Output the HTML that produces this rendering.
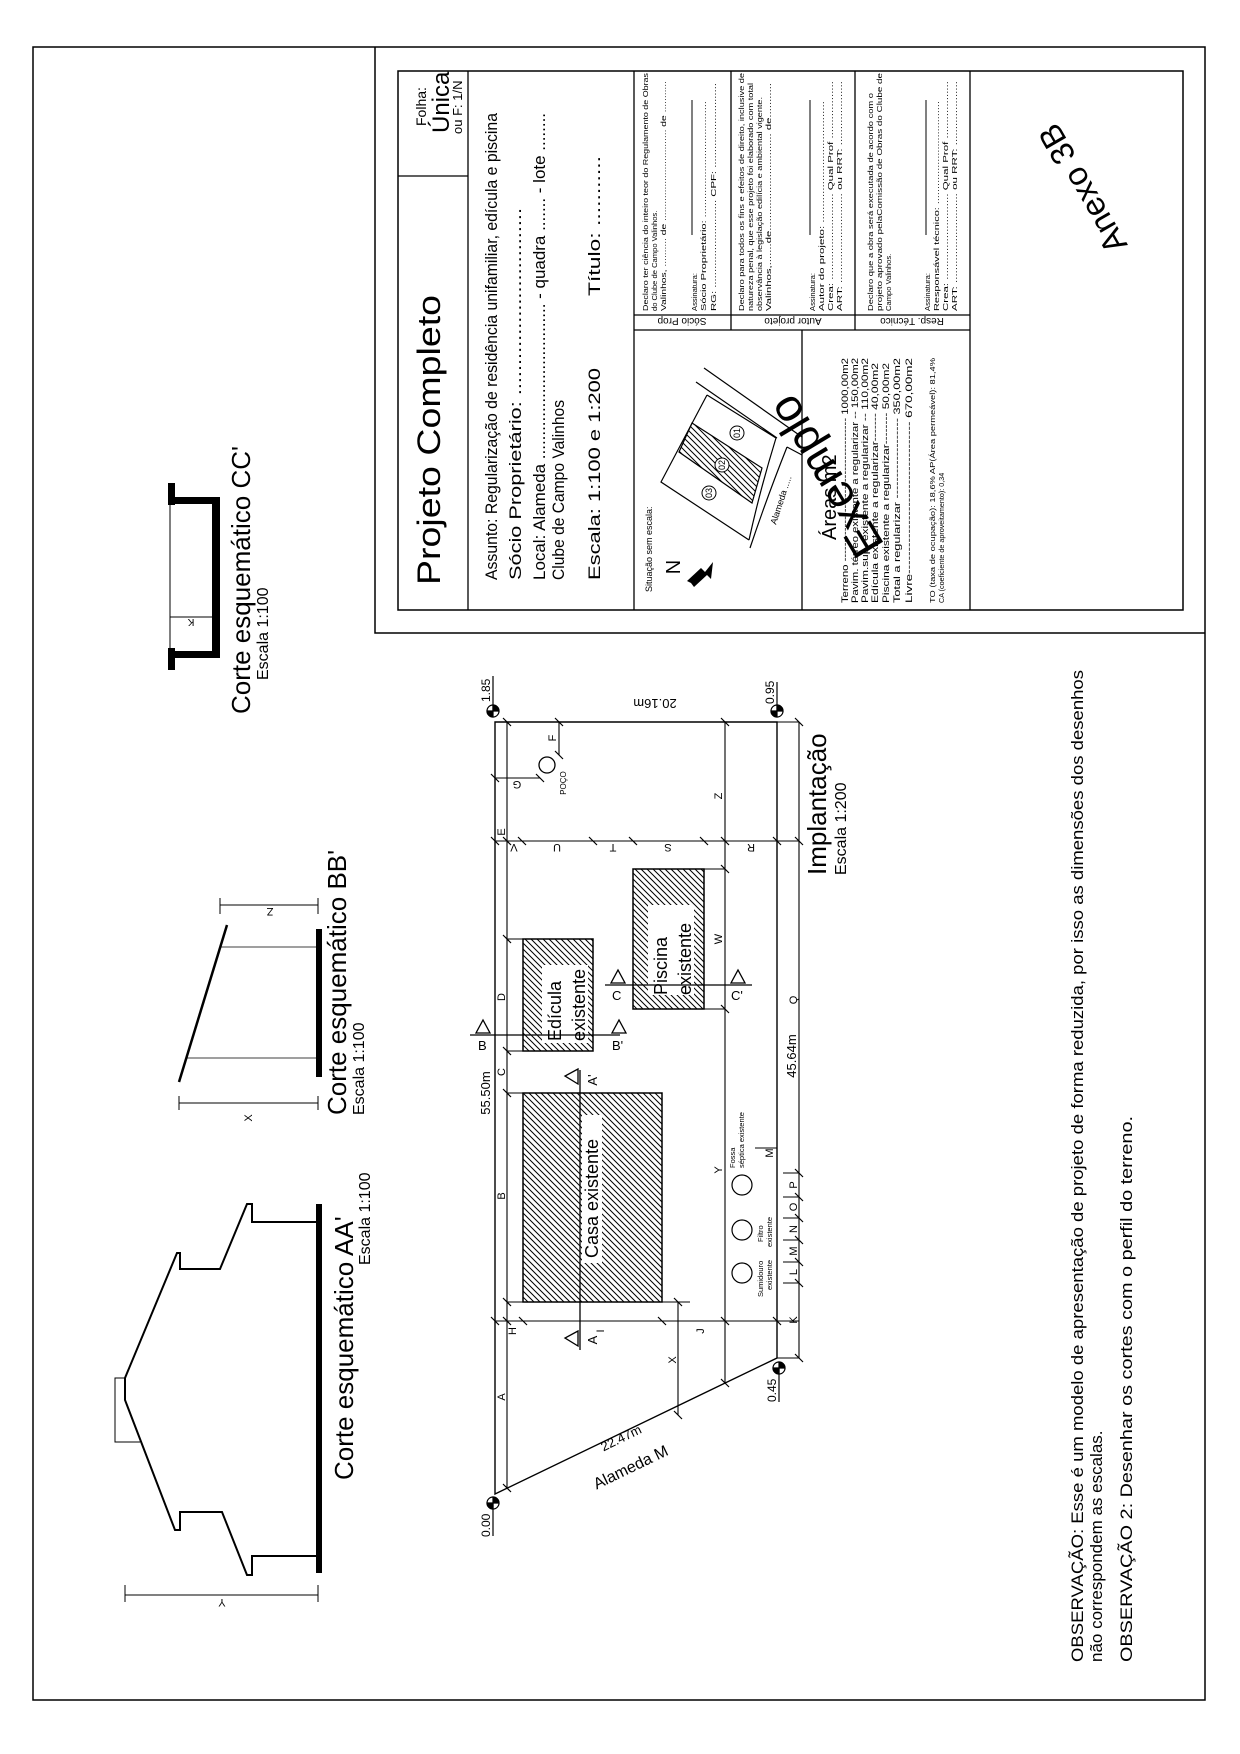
<!DOCTYPE html>
<html><head><meta charset="utf-8"><style>
html,body{margin:0;padding:0;background:#fff}
svg{display:block}
text{font-family:"Liberation Sans",Arial,sans-serif;fill:#000}
</style></head><body>
<svg width="1240" height="1754" viewBox="0 0 1240 1754" xmlns="http://www.w3.org/2000/svg">
<defs>
<pattern id="h" patternUnits="userSpaceOnUse" width="6" height="6">
<path d="M-1,-1 L7,7 M-4,2 L2,8 M4,-2 L8,2" stroke="#000" stroke-width="1"/>
</pattern>
</defs>
<rect width="1240" height="1754" fill="#fff"/>
<!-- outer border -->
<rect x="33" y="47" width="1172" height="1653" fill="none" stroke="#000" stroke-width="1.5"/>
<!-- title block -->
<path d="M375,47 V633 H1205" fill="none" stroke="#000" stroke-width="1.5"/>
<rect x="398" y="71" width="785" height="539" fill="none" stroke="#000" stroke-width="1.5"/>
<g stroke="#000" stroke-width="1.3" fill="none">
<path d="M468,71 V610 M398,176 H468 M634,71 V610 M970,71 V610 M634,330 H970 M634,315 H970 M731,71 V330 M855,71 V330 M802,330 V610"/>
</g>
<g>
<text transform="translate(440,585) rotate(-90)" font-size="32" textLength="290" lengthAdjust="spacingAndGlyphs">Projeto Completo</text>
<text transform="translate(426,126) rotate(-90)" font-size="14">Folha:</text>
<text transform="translate(449,133) rotate(-90)" font-size="24">Única</text>
<text transform="translate(462,134) rotate(-90)" font-size="13">ou F: 1/N</text>
<text transform="translate(497,580) rotate(-90)" font-size="17" textLength="467" lengthAdjust="spacingAndGlyphs">Assunto: Regularização de residência unifamiliar, edícula e piscina</text>
<text transform="translate(521,580) rotate(-90)" font-size="17" textLength="372" lengthAdjust="spacingAndGlyphs">Sócio Proprietário: ...............................</text>
<text transform="translate(545,580) rotate(-90)" font-size="17" textLength="467" lengthAdjust="spacingAndGlyphs">Local: Alameda ................................. - quadra ....... - lote ........</text>
<text transform="translate(564,580) rotate(-90)" font-size="17" textLength="180" lengthAdjust="spacingAndGlyphs">Clube de Campo Valinhos</text>
<text transform="translate(600,580) rotate(-90)" font-size="17" textLength="212" lengthAdjust="spacingAndGlyphs">Escala: 1:100 e 1:200</text>
<text transform="translate(600,296) rotate(-90)" font-size="17" textLength="140" lengthAdjust="spacingAndGlyphs">Título: ...........</text>
</g>
<!-- declarations -->
<g font-size="7.6">
<text transform="translate(648,311) rotate(-90)" textLength="238" lengthAdjust="spacingAndGlyphs">Declaro ter ciência do inteiro teor do Regulamento de Obras</text>
<text transform="translate(657,311) rotate(-90)">do Clube de Campo Valinhos.</text>
<text transform="translate(666,311) rotate(-90)" textLength="230" lengthAdjust="spacingAndGlyphs">Valinhos, .......... de ................................ de ...........</text>
<text transform="translate(697,311) rotate(-90)">Assinatura:</text>
<text transform="translate(706,311) rotate(-90)" textLength="210" lengthAdjust="spacingAndGlyphs">Sócio Proprietário: ......................................</text>
<text transform="translate(716,311) rotate(-90)" textLength="228" lengthAdjust="spacingAndGlyphs">RG: ............................ CPF: ...........................</text>
<text transform="translate(744,311) rotate(-90)" textLength="238" lengthAdjust="spacingAndGlyphs">Declaro para todos os fins e efeitos de direito, inclusive de</text>
<text transform="translate(753,311) rotate(-90)" textLength="228" lengthAdjust="spacingAndGlyphs">natureza penal, que esse projeto foi elaborado com total</text>
<text transform="translate(762,311) rotate(-90)" textLength="214" lengthAdjust="spacingAndGlyphs">observância à legislação edilícia e ambiental vigente.</text>
<text transform="translate(771,311) rotate(-90)" textLength="228" lengthAdjust="spacingAndGlyphs">Valinhos,.......de............................... de...........</text>
<text transform="translate(815,311) rotate(-90)">Assinatura:</text>
<text transform="translate(824,311) rotate(-90)" textLength="210" lengthAdjust="spacingAndGlyphs">Autor do projeto: ......................................</text>
<text transform="translate(833,311) rotate(-90)" textLength="230" lengthAdjust="spacingAndGlyphs">Crea: ........................... Qual Prof ..................</text>
<text transform="translate(842,311) rotate(-90)" textLength="230" lengthAdjust="spacingAndGlyphs">ART: ............................ ou RRT: ....................</text>
<text transform="translate(873,311) rotate(-90)" textLength="218" lengthAdjust="spacingAndGlyphs">Declaro que a obra será executada de acordo com o</text>
<text transform="translate(882,311) rotate(-90)" textLength="238" lengthAdjust="spacingAndGlyphs">projeto aprovado pelaComissão de Obras do Clube de</text>
<text transform="translate(891,311) rotate(-90)">Campo Valinhos.</text>
<text transform="translate(930,311) rotate(-90)">Assinatura:</text>
<text transform="translate(939,311) rotate(-90)" textLength="210" lengthAdjust="spacingAndGlyphs">Responsável técnico: ..................................</text>
<text transform="translate(948,311) rotate(-90)" textLength="230" lengthAdjust="spacingAndGlyphs">Crea: ........................... Qual Prof ..................</text>
<text transform="translate(957,311) rotate(-90)" textLength="230" lengthAdjust="spacingAndGlyphs">ART: ............................ ou RRT: ....................</text>
</g>
<path d="M692,100 V235 M810,100 V235 M926,100 V235" stroke="#000" stroke-width="1"/>
<g font-size="10">
<text transform="translate(682,318) rotate(180)" text-anchor="middle">Sócio Prop</text>
<text transform="translate(793,318) rotate(180)" text-anchor="middle">Autor projeto</text>
<text transform="translate(912,318) rotate(180)" text-anchor="middle">Resp. Técnico</text>
</g>
<!-- situation -->
<text transform="translate(652,592) rotate(-90)" font-size="9">Situação sem escala:</text>
<text transform="translate(680,567) rotate(-90)" font-size="20" text-anchor="middle">N</text>
<polygon points="713,562 705,572 701,568 687,581 691,583 694,587 707,575 711,579" fill="#000"/>
<g stroke="#000" stroke-width="1.2" fill="none">
<path d="M704,368 L802,437 M696,382 L777,438 M707,395 L661,482 L749,540 M707,395 L776,438 M776,438 Q760,490 749,540 M787,447 Q766,500 750,548 M787,447 L802,455"/>
</g>
<polygon points="692,423 762,468 752,503 679,452" fill="url(#h)" stroke="#000" stroke-width="1.2"/>
<g fill="#fff" stroke="#000" stroke-width="1"><circle cx="737" cy="433" r="7"/><circle cx="722" cy="465" r="7"/><circle cx="709" cy="493" r="7"/></g>
<g font-size="9">
<text transform="translate(740,433) rotate(-90)" text-anchor="middle">01</text>
<text transform="translate(725,465) rotate(-90)" text-anchor="middle">02</text>
<text transform="translate(712,493) rotate(-90)" text-anchor="middle">03</text>
<text transform="translate(776,525) rotate(-72)" font-size="9">Alameda .....</text>
</g>
<!-- areas -->
<text transform="translate(836,540) rotate(-90)" font-size="20">Áreas m2</text>
<g font-size="9.3">
<text transform="translate(848,603) rotate(-90)" textLength="245" lengthAdjust="spacingAndGlyphs">Terreno -------------------------------------- 1000,00m2</text>
<text transform="translate(858,603) rotate(-90)" textLength="245" lengthAdjust="spacingAndGlyphs">Pavim. térreo existente a regularizar -- 150,00m2</text>
<text transform="translate(868,603) rotate(-90)" textLength="245" lengthAdjust="spacingAndGlyphs">Pavim.sup. existente a regularizar -- 110,00m2</text>
<text transform="translate(878,603) rotate(-90)" textLength="240" lengthAdjust="spacingAndGlyphs">Edícula existente  a regularizar------- 40,00m2</text>
<text transform="translate(889,603) rotate(-90)" textLength="240" lengthAdjust="spacingAndGlyphs">Piscina existente a regularizar-------- 50,00m2</text>
<text transform="translate(900,603) rotate(-90)" textLength="245" lengthAdjust="spacingAndGlyphs">Total a regularizar ------------------- 350,00m2</text>
<text transform="translate(912,603) rotate(-90)" textLength="245" lengthAdjust="spacingAndGlyphs">Livre---------------------------------- 670,00m2</text>
<text transform="translate(935,603) rotate(-90)" font-size="7.2" textLength="245" lengthAdjust="spacingAndGlyphs">TO (taxa de ocupação): 18,6%     AP(Área permeável): 81,4%</text>
<text transform="translate(944,603) rotate(-90)" font-size="7.2">CA (coeficiente de aproveitamento): 0,34</text>
</g>
<text transform="translate(885,545) rotate(-121)" font-size="46">Exemplo</text>
<text transform="translate(1128,245) rotate(-120)" font-size="33">Anexo 3B</text>

<!-- SITE PLAN -->
<g stroke="#000" stroke-width="1.4" fill="none">
<path d="M495,722 H777 V1358 L495,1494 Z"/>
</g>
<g stroke="#000" stroke-width="1.1" fill="none">
<path d="M507,722 V1488"/>
<path d="M725,722 V1383"/>
<path d="M799,722 V1358"/>
<path d="M495,841 H799"/>
<path d="M495,1321 H799"/>
<path d="M507,939 H523 M507,1051 H523 M507,1093 H523 M507,1302 H523 M662,1302 H690 M678,1302 V1415"/>
<path d="M704,869 H725 M704,1009 H725"/>
<path d="M559,722 V755 M495,778 H540"/>
<path d="M777,722 H799 M777,1358 H799 M783,1173 H799 M783,1197 H799 M783,1218 H799 M783,1240 H799 M783,1262 H799 M783,1283 H799 M755,1148 H777"/>
</g>
<!-- ticks -->
<g stroke="#000" stroke-width="1.2">
<path d="M503,718 l8,8 M503,837 l8,8 M503,935 l8,8 M503,1047 l8,8 M503,1089 l8,8 M503,1298 l8,8 M503,1484 l8,8
M518,837 l8,8 M589,837 l8,8 M629,837 l8,8 M700,837 l8,8 M721,837 l8,8 M773,837 l8,8 M491,837 l8,8
M721,718 l8,8 M721,865 l8,8 M721,1005 l8,8 M721,1379 l8,8 M795,718 l8,8 M795,837 l8,8 M795,1169 l8,8 M795,1193 l8,8 M795,1214 l8,8 M795,1236 l8,8 M795,1258 l8,8 M795,1279 l8,8 M795,1354 l8,8
M503,1317 l8,8 M519,1317 l8,8 M658,1317 l8,8 M721,1317 l8,8 M773,1317 l8,8 M491,1317 l8,8 M674,1298 l8,8 M674,1411 l8,8 M555,718 l8,8 M555,751 l8,8 M491,774 l8,8 M536,774 l8,8"/>
</g>
<!-- buildings -->
<rect x="523" y="1093" width="139" height="209" fill="url(#h)" stroke="#000" stroke-width="1.5"/>
<rect x="523" y="939" width="70" height="112" fill="url(#h)" stroke="#000" stroke-width="1.5"/>
<rect x="633" y="869" width="71" height="140" fill="url(#h)" stroke="#000" stroke-width="1.5"/>
<rect x="582" y="1115" width="20" height="148" fill="#fff"/>
<rect x="542" y="965" width="46" height="78" fill="#fff"/>
<rect x="648" y="905" width="46" height="90" fill="#fff"/>
<g font-size="18">
<text transform="translate(598,1258) rotate(-90)">Casa existente</text>
<text transform="translate(561,1041) rotate(-90)">Edícula</text>
<text transform="translate(585,1041) rotate(-90)">existente</text>
<text transform="translate(667,995) rotate(-90)">Piscina</text>
<text transform="translate(691,995) rotate(-90)">existente</text>
</g>
<!-- section lines -->
<g stroke="#000" stroke-width="1.3" fill="none">
<path d="M470,1035 H620 M605,985 H752 M580,1070 V1350"/>
<polygon points="476,1033 490,1033 483,1020"/>
<polygon points="612,1033 626,1033 619,1020"/>
<polygon points="611,983 625,983 618,970"/>
<polygon points="731,983 745,983 738,970"/>
<polygon points="578,1069 578,1084 565,1076"/>
<polygon points="578,1331 578,1346 565,1338"/>
</g>
<g font-size="13">
<text x="478" y="1050">B</text><text x="612" y="1050">B'</text>
<text x="612" y="1000">C</text><text x="731" y="1000">C'</text>
<text transform="translate(597,1080) rotate(-90)" text-anchor="middle">A'</text>
<text transform="translate(597,1340) rotate(-90)" text-anchor="middle">A</text>
</g>
<!-- misc plan items -->
<circle cx="547" cy="765" r="8" fill="none" stroke="#000" stroke-width="1.3"/>
<text transform="translate(566,783) rotate(-90)" font-size="8" text-anchor="middle">POÇO</text>
<g fill="none" stroke="#000" stroke-width="1.2"><circle cx="742" cy="1185" r="10"/><circle cx="742" cy="1230" r="10"/><circle cx="742" cy="1273" r="10"/></g>
<g font-size="7.5">
<text transform="translate(735,1168) rotate(-90)">Fossa</text>
<text transform="translate(744,1168) rotate(-90)">séptica existente</text>
<text transform="translate(763,1242) rotate(-90)">Filtro</text>
<text transform="translate(772,1247) rotate(-90)">existente</text>
<text transform="translate(763,1297) rotate(-90)">Sumidouro</text>
<text transform="translate(772,1290) rotate(-90)">existente</text>
</g>
<g font-size="11">
<text transform="translate(505,1397) rotate(-90)" text-anchor="middle">A</text>
<text transform="translate(505,1196) rotate(-90)" text-anchor="middle">B</text>
<text transform="translate(505,1072) rotate(-90)" text-anchor="middle">C</text>
<text transform="translate(505,997) rotate(-90)" text-anchor="middle">D</text>
<text transform="translate(505,832) rotate(-90)" text-anchor="middle">E</text>
<text transform="translate(556,738) rotate(-90)" text-anchor="middle">F</text>
<text transform="translate(517,781) rotate(180)" text-anchor="middle">G</text>
<text transform="translate(516,1331) rotate(-90)" text-anchor="middle">H</text>
<text transform="translate(604,1331) rotate(-90)" text-anchor="middle">I</text>
<text transform="translate(704,1331) rotate(-90)" text-anchor="middle">J</text>
<text transform="translate(797,1320) rotate(-90)" text-anchor="middle">K</text>
<text transform="translate(797,1272) rotate(-90)" text-anchor="middle">L</text>
<text transform="translate(797,1251) rotate(-90)" text-anchor="middle">M</text>
<text transform="translate(797,1229) rotate(-90)" text-anchor="middle">N</text>
<text transform="translate(797,1207) rotate(-90)" text-anchor="middle">O</text>
<text transform="translate(797,1185) rotate(-90)" text-anchor="middle">P</text>
<text transform="translate(797,1000) rotate(-90)" text-anchor="middle">Q</text>
<text transform="translate(751,844) rotate(180)" text-anchor="middle">R</text>
<text transform="translate(668,844) rotate(180)" text-anchor="middle">S</text>
<text transform="translate(613,844) rotate(180)" text-anchor="middle">T</text>
<text transform="translate(557,844) rotate(180)" text-anchor="middle">U</text>
<text transform="translate(514,844) rotate(180)" text-anchor="middle">V</text>
<text transform="translate(722,939) rotate(-90)" text-anchor="middle">W</text>
<text transform="translate(676,1360) rotate(-90)" text-anchor="middle">X</text>
<text transform="translate(722,1170) rotate(-90)" text-anchor="middle">Y</text>
<text transform="translate(722,796) rotate(-90)" text-anchor="middle">Z</text>
<text transform="translate(773,1153) rotate(-90)" text-anchor="middle">M</text>
</g>
<g font-size="13">
<text transform="translate(490,1093) rotate(-90)" text-anchor="middle">55.50m</text>
<text transform="translate(655,699) rotate(180)" text-anchor="middle">20.16m</text>
<text transform="translate(796,1056) rotate(-90)" text-anchor="middle">45.64m</text>
<text transform="translate(623,1442) rotate(-25.8)" text-anchor="middle">22.47m</text>
<text transform="translate(633,1472) rotate(-25.8)" text-anchor="middle" font-size="16">Alameda M</text>
</g>
<!-- level markers -->
<g stroke="#000" stroke-width="1.2">
<circle cx="493" cy="711" r="6" fill="#fff"/><path d="M493,705 A6,6 0 0 1 499,711 L493,711 Z M493,717 A6,6 0 0 1 487,711 L493,711 Z" fill="#000"/><path d="M493,711 V676"/>
<circle cx="777" cy="711" r="6" fill="#fff"/><path d="M777,705 A6,6 0 0 1 783,711 L777,711 Z M777,717 A6,6 0 0 1 771,711 L777,711 Z" fill="#000"/><path d="M777,711 V682"/>
<circle cx="493" cy="1503" r="6" fill="#fff"/><path d="M493,1497 A6,6 0 0 1 499,1503 L493,1503 Z M493,1509 A6,6 0 0 1 487,1503 L493,1503 Z" fill="#000"/><path d="M493,1503 V1536"/>
<circle cx="779" cy="1368" r="6" fill="#fff"/><path d="M779,1362 A6,6 0 0 1 785,1368 L779,1368 Z M779,1374 A6,6 0 0 1 773,1368 L779,1368 Z" fill="#000"/><path d="M779,1368 V1402"/>
</g>
<g font-size="12">
<text transform="translate(490,702) rotate(-90)">1.85</text>
<text transform="translate(774,704) rotate(-90)">0.95</text>
<text transform="translate(490,1537) rotate(-90)">0.00</text>
<text transform="translate(776,1402) rotate(-90)">0.45</text>
</g>
<text transform="translate(826,875) rotate(-90)" font-size="26">Implantação</text>
<text transform="translate(846,875) rotate(-90)" font-size="16">Escala 1:200</text>

<!-- SECTIONS -->
<!-- CC' -->
<g fill="#000">
<rect x="168" y="483" width="7" height="22"/><rect x="168" y="648" width="7" height="22"/>
<rect x="175" y="497" width="45" height="7"/><rect x="175" y="651" width="45" height="7"/>
<rect x="212" y="497" width="8" height="161"/>
</g>
<path d="M170,505 V648 M170,617 H212" stroke="#000" stroke-width="1"/>
<text transform="translate(191,619) rotate(180)" font-size="10" text-anchor="middle">K</text>
<text transform="translate(250,714) rotate(-90)" font-size="26">Corte esquemático CC'</text>
<text transform="translate(268,680) rotate(-90)" font-size="16">Escala 1:100</text>
<!-- BB' -->
<rect x="316" y="929" width="6" height="148" fill="#000"/>
<path d="M227,925 L179,1082" stroke="#000" stroke-width="2.5"/>
<path d="M221,947 H318 M187,1058 H318" stroke="#000" stroke-width="0.8"/>
<path d="M220,905 H318 M220,898 V914 M318,898 V914 M179,1103 H318 M179,1096 V1110 M318,1096 V1110" stroke="#000" stroke-width="1"/>
<text transform="translate(270,908) rotate(180)" font-size="11" text-anchor="middle">Z</text>
<text transform="translate(252,1118) rotate(-90)" font-size="11" text-anchor="middle">X</text>
<text transform="translate(346,1115) rotate(-90)" font-size="26">Corte esquemático BB'</text>
<text transform="translate(364,1115) rotate(-90)" font-size="16">Escala 1:100</text>
<!-- AA' -->
<rect x="316" y="1204" width="6" height="369" fill="#000"/>
<path d="M318,1222 H252 V1204 H247 L220,1269 H180 V1253 H177 L125,1378 V1400 L175,1530 H180 V1512 H222 L247,1575 H252 V1556 H318" fill="none" stroke="#000" stroke-width="2"/>
<path d="M125,1378 H115 V1442 H140" fill="none" stroke="#000" stroke-width="1"/>
<path d="M125,1595 H318 M125,1585 V1602 M318,1585 V1602" stroke="#000" stroke-width="1"/>
<text transform="translate(222,1599) rotate(180)" font-size="11" text-anchor="middle">Y</text>
<text transform="translate(353,1480) rotate(-90)" font-size="26">Corte esquemático AA'</text>
<text transform="translate(370,1265) rotate(-90)" font-size="16">Escala 1:100</text>

<!-- notes -->
<text transform="translate(1083,1662) rotate(-90)" font-size="17" textLength="992" lengthAdjust="spacingAndGlyphs">OBSERVAÇÃO: Esse é um modelo de apresentação de projeto de forma reduzida, por isso as dimensões dos desenhos</text>
<text transform="translate(1102,1662) rotate(-90)" font-size="17">não correspondem as escalas.</text>
<text transform="translate(1132,1662) rotate(-90)" font-size="17" textLength="546" lengthAdjust="spacingAndGlyphs">OBSERVAÇÃO 2: Desenhar os cortes com o perfil do terreno.</text>
</svg>
</body></html>
